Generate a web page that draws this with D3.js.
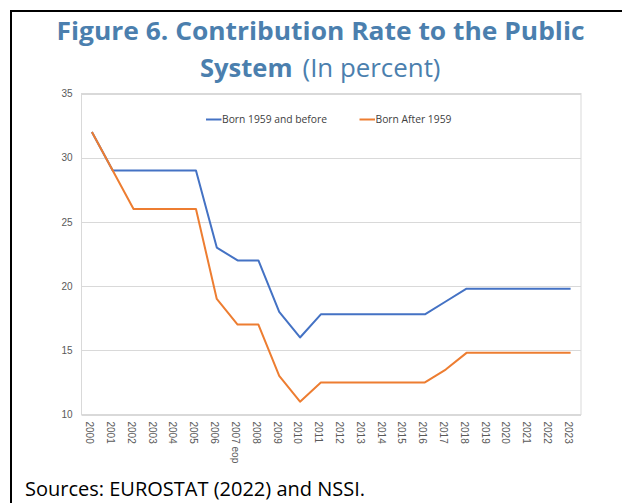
<!DOCTYPE html>
<html>
<head>
    <meta charset="utf-8">
    <script src="https://d3js.org/d3.v7.min.js" charset="utf-8"></script>
    <title>Figure 6. Contribution Rate to the Public System</title>
    <style type="text/css">
        body {
            margin: 0;
            background: #fff;
            font-family: "Open Sans", "DejaVu Sans", sans-serif;
        }

        .grid line {
            stroke: #d9d9d9;
        }

        .tick text {
            fill: #595959;
            font-size: 10px;
        }

        .legend text {
            fill: #404040;
            font-size: 10.3px;
        }
    </style>
</head>
<body>

<div id="visContainer"></div>

<script>

var years = ["2000", "2001", "2002", "2003", "2004", "2005", "2006", "2007 eop", "2008", "2009",
             "2010", "2011", "2012", "2013", "2014", "2015", "2016", "2017", "2018", "2019",
             "2020", "2021", "2022", "2023"];
var bornBefore = [32, 29, 29, 29, 29, 29, 23, 22, 22, 18, 16, 17.8, 17.8, 17.8, 17.8, 17.8, 17.8, 18.8,
                  19.8, 19.8, 19.8, 19.8, 19.8, 19.8];
var bornAfter = [32, 29, 26, 26, 26, 26, 19, 17, 17, 13, 11, 12.5, 12.5, 12.5, 12.5, 12.5, 12.5, 13.5,
                 14.8, 14.8, 14.8, 14.8, 14.8, 14.8];
var yTicks = [10, 15, 20, 25, 30, 35];
var seriesNames = ["Born 1959 and before", "Born After 1959"];
var seriesColors = ["#4472c4", "#ed7d31"];

var width = 622, height = 503;
var plot = {left: 81.5, right: 581, top: 93.5, bottom: 414.5};

var svg = d3.select("#visContainer").append("svg")
        .attr("width", width)
        .attr("height", height);

// frame of the figure box (top and left edges only are visible)
svg.append("line")
        .attr("x1", 10).attr("x2", width).attr("y1", 11).attr("y2", 11)
        .style("stroke", "#000").style("stroke-width", 2);
svg.append("line")
        .attr("x1", 11).attr("x2", 11).attr("y1", 10).attr("y2", height)
        .style("stroke", "#000").style("stroke-width", 2);

// title
var titleColor = "#4b7fae";
svg.append("text")
        .attr("x", 56.5).attr("y", 40)
        .attr("textLength", 528).attr("lengthAdjust", "spacingAndGlyphs")
        .style("font-size", "25px").style("font-weight", "bold").style("fill", titleColor)
        .text("Figure 6. Contribution Rate to the Public");
svg.append("text")
        .attr("x", 200).attr("y", 76.5)
        .attr("textLength", 92.5).attr("lengthAdjust", "spacingAndGlyphs")
        .style("font-size", "25px").style("font-weight", "bold").style("fill", titleColor)
        .text("System");
svg.append("text")
        .attr("x", 302.5).attr("y", 76.5)
        .attr("textLength", 138).attr("lengthAdjust", "spacingAndGlyphs")
        .style("font-size", "25px").style("fill", titleColor)
        .text("(In percent)");

var x = d3.scalePoint()
        .domain(years)
        .range([plot.left, plot.right])
        .padding(0.5);

var y = d3.scaleLinear()
        .domain([10, 35])
        .range([plot.bottom, plot.top]);

// gridlines
svg.append("g")
        .attr("class", "grid")
        .selectAll("line")
        .data(yTicks)
        .enter().append("line")
        .attr("x1", plot.left).attr("x2", plot.right)
        .attr("y1", function (d) { return Math.round(y(d)) + 0.5; })
        .attr("y2", function (d) { return Math.round(y(d)) + 0.5; });

svg.append("rect")
        .attr("x", plot.left).attr("y", plot.top)
        .attr("width", plot.right - plot.left).attr("height", plot.bottom - plot.top)
        .style("fill", "none").style("stroke", "#d9d9d9");

// y axis labels
var yAxis = svg.append("g")
        .attr("transform", "translate(" + plot.left + ",0)")
        .call(d3.axisLeft(y).tickValues(yTicks).tickSize(0).tickPadding(9));
yAxis.select(".domain").remove();
yAxis.selectAll("text").style("font-family", "inherit");

// x axis labels, rotated to read downwards
var xAxis = svg.append("g")
        .attr("transform", "translate(0," + plot.bottom + ")")
        .call(d3.axisBottom(x).tickSize(0));
xAxis.select(".domain").remove();
xAxis.selectAll("text")
        .style("font-family", "inherit")
        .attr("text-anchor", "start")
        .attr("dy", "0.32em")
        .attr("transform", "translate(0,7) rotate(90)");

// lines
var line = d3.line()
        .x(function (d, i) { return x(years[i]); })
        .y(function (d) { return y(d); });

[bornBefore, bornAfter].forEach(function (values, k) {
    svg.append("path")
            .datum(values)
            .attr("d", line)
            .style("fill", "none")
            .style("stroke", seriesColors[k])
            .style("stroke-width", 2)
            .style("stroke-linejoin", "round");
});

// legend
var legendX = [206, 359.5];
var legend = svg.append("g").attr("class", "legend");
seriesNames.forEach(function (name, k) {
    legend.append("line")
            .attr("x1", legendX[k]).attr("x2", legendX[k] + 15.5)
            .attr("y1", 119.5).attr("y2", 119.5)
            .style("stroke", seriesColors[k]).style("stroke-width", 2);
    legend.append("text")
            .attr("x", legendX[k] + 16).attr("y", 119.5)
            .attr("dy", "0.35em")
            .text(name);
});

// source note
svg.append("text")
        .attr("x", 25).attr("y", 496)
        .style("font-size", "20px").style("fill", "#000")
        .text("Sources: EUROSTAT (2022) and NSSI.");

</script>

</body>
</html>
